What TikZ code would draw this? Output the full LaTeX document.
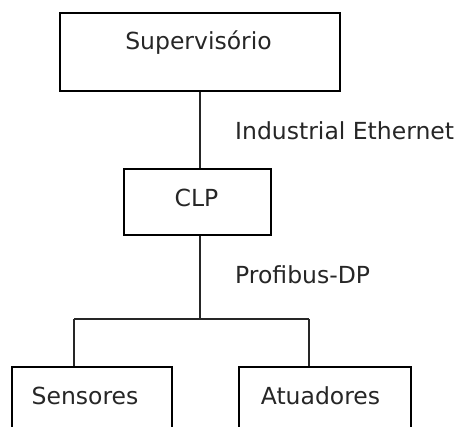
\documentclass[tikz,border=0pt]{standalone}
\usepackage{fontspec}
\setmainfont{DejaVu Sans}
\begin{document}
\begin{tikzpicture}[x=1pt,y=-1pt,
  box/.style={draw=black,line width=1.2pt,rectangle,inner sep=0pt},
  lbl/.style={anchor=base,inner sep=0pt,font=\fontsize{23.5}{28}\selectfont,text=black!85},
  conn/.style={draw=black!85,line width=1.2pt}]
\useasboundingbox (0,0) rectangle (461,427);
\clip (0,0) rectangle (461,427);
\node[box,minimum width=280pt,minimum height=78pt] (sup) at (200,52) {};
\node[box,minimum width=147pt,minimum height=66pt] (clp) at (197.5,202) {};
\node[box,minimum width=160pt,minimum height=93pt] (sen) at (92,413.5) {};
\node[box,minimum width=172pt,minimum height=93pt] (act) at (325,413.5) {};
\node[lbl] (tsup) at (198.5,50) {Supervisório};
\node[lbl] (tclp) at (196.5,207) {CLP};
\node[lbl] (tsen) at (85,405) {Sensores};
\node[lbl] (tact) at (320.5,405) {Atuadores};
\node[lbl,anchor=base west] (eth) at (235,140) {Industrial Ethernet};
\node[lbl,anchor=base west] (dp) at (235,284) {Profibus-DP};
\coordinate (bus) at (200,319);
\coordinate (bl) at (74,319);
\coordinate (br) at (309,319);
\draw[conn] (sup.south) -- (sup.south |- clp.north);
\draw[conn] (bus |- clp.south) -- (bus);
\draw[conn] (bl) -- (br);
\draw[conn] (bl) -- (bl |- sen.north);
\draw[conn] (br) -- (br |- act.north);
\end{tikzpicture}
\end{document}
